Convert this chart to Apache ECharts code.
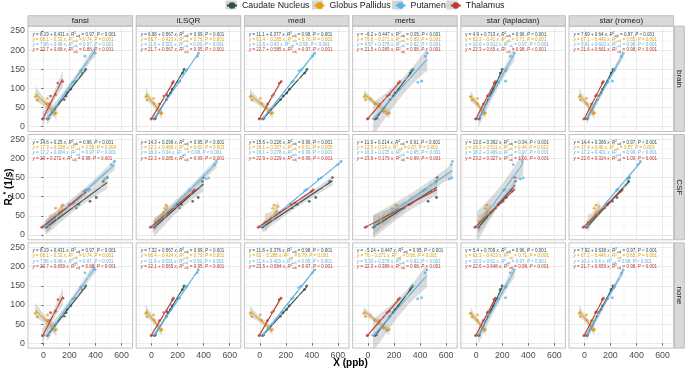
<!DOCTYPE html>
<html><head><meta charset="utf-8">
<script src="https://cdn.jsdelivr.net/npm/echarts@6/dist/echarts.min.js"></script>
<style>html,body{margin:0;padding:0;background:#fff}#c{width:685px;height:369px}</style>
</head><body><div id="c"></div>
<script>
// ---------------- DATA ----------------
const methods = ['fansi', 'iLSQR', 'medi', 'merts', 'star (laplacian)', 'star (romeo)'];
const references = ['brain', 'CSF', 'none'];
const groups = ['Caudate Nucleus', 'Globus Pallidus', 'Putamen', 'Thalamus'];
const xTickValues = [0, 200, 400, 600];
const yTickValues = [0, 50, 100, 150, 200, 250];
const xMinorValues = [-100, 100, 300, 500];
const yMinorValues = [25, 75, 125, 175, 225];

// R2* values (1/s) per region (same in every panel)
const yCN = [20, 22, 71, 80, 88, 98, 140, 150];
const yGP = [34, 36, 40, 60, 70, 74, 78];
const yPU = [21, 24, 116, 119, 146, 149, 184, 192];
const yTH = [20, 22, 59, 80, 84, 114, 118];

// susceptibility X (ppb) per panel: brain x6, CSF x6, none x6
const xCN = [
  [30, 38, 160, 175, 182, 210, 300, 325], [22, 30, 115, 126, 146, 158, 238, 250], [22, 32, 160, 180, 208, 228, 345, 362],
  [55, 68, 170, 195, 208, 238, 325, 345], [20, 26, 94, 102, 118, 132, 185, 200], [18, 25, 100, 110, 128, 140, 205, 220],
  [20, 28, 253, 270, 358, 406, 460, 491], [18, 26, 215, 230, 315, 358, 390, 398], [18, 28, 250, 290, 380, 430, 537, 558],
  [40, 50, 275, 320, 462, 526, 525, 532], [15, 22, 150, 172, 207, 232, 300, 298], [14, 21, 155, 178, 215, 250, 340, 345],
  [30, 38, 160, 175, 182, 210, 300, 325], [22, 29, 114, 125, 145, 157, 237, 249], [20, 30, 158, 178, 206, 226, 343, 360],
  [53, 66, 168, 193, 206, 236, 323, 343], [19, 25, 93, 101, 117, 131, 184, 199], [17, 24, 99, 109, 127, 139, 204, 219]
];
const xGP = [
  [88, 100, 68, 25, -45, 32, -62], [72, 80, 55, 20, -35, 15, -45], [90, 100, 70, 15, -60, 5, -75],
  [150, 165, 120, 55, -20, 20, -30], [62, 72, 48, 10, -30, 10, -45], [68, 78, 55, 20, -30, 15, -40],
  [40, 70, 85, 130, 95, 140, 150], [30, 50, 62, 95, 100, 120, 110], [40, 65, 80, 125, 100, 140, 110],
  [85, 105, 125, 200, 185, 230, 215], [20, 45, 50, 90, 70, 105, 80], [25, 50, 55, 95, 75, 115, 90],
  [88, 100, 68, 25, -45, 32, -62], [72, 80, 55, 20, -35, 15, -45], [88, 98, 68, 14, -60, 4, -74],
  [148, 163, 118, 54, -20, 18, -32], [62, 72, 48, 10, -30, 10, -45], [68, 78, 55, 20, -30, 15, -40]
];
const xPU = [
  [28, 38, 225, 240, 286, 299, 320, 398], [20, 28, 205, 218, 262, 270, 352, 360], [24, 33, 245, 258, 300, 318, 405, 422],
  [40, 55, 383, 413, 330, 345, 440, 455], [18, 24, 172, 226, 225, 230, 262, 295], [18, 25, 180, 215, 228, 235, 285, 300],
  [12, 25, 345, 355, 470, 491, 520, 547], [8, 18, 290, 300, 420, 438, 485, 500], [10, 22, 345, 360, 450, 470, 600, 625],
  [40, 55, 425, 440, 625, 642, 640, 648], [6, 14, 210, 220, 340, 361, 284, 355], [10, 18, 245, 255, 330, 340, 410, 430],
  [28, 38, 225, 240, 286, 299, 320, 398], [19, 27, 204, 217, 261, 269, 351, 359], [22, 31, 243, 256, 298, 316, 404, 422],
  [38, 53, 381, 411, 328, 343, 438, 453], [17, 23, 171, 225, 224, 229, 261, 294], [17, 24, 179, 214, 227, 234, 284, 299]
];
const xTH = [
  [-8, 2, 45, 55, 95, 110, 148], [-4, 3, 60, 95, 115, 160, 168], [-5, 2, 60, 95, 105, 150, 165],
  [-5, 3, 92, 148, 165, 232, 245], [-5, 2, 55, 86, 98, 138, 148], [-4, 3, 55, 86, 96, 138, 146],
  [-12, -4, 125, 200, 230, 311, 330], [-10, -2, 130, 195, 220, 315, 330], [-12, -4, 150, 240, 270, 395, 410],
  [-22, -10, 190, 305, 340, 495, 520], [-10, -3, 108, 172, 188, 276, 290], [-9, -2, 110, 175, 190, 280, 292],
  [-8, 2, 45, 55, 95, 112, 150], [-4, 3, 60, 95, 115, 160, 168], [-6, 1, 58, 93, 104, 148, 163],
  [-7, 1, 90, 146, 163, 230, 243], [-5, 2, 54, 85, 97, 137, 147], [-4, 3, 55, 86, 96, 138, 146]
];

// fitted equations per panel (intercept, slope, adj. R2, P)
const aCN = [8.19, 6.98, 11.1, -6.2, 4.9, 7.69, 14.6, 14.3, 15.6, 11.9, 13.6, 14.4, 8.19, 7.32, 11.8, -5.24, 5.4, 7.92];
const bCN = [0.431, 0.567, 0.377, 0.447, 0.713, 0.64, 0.25, 0.299, 0.226, 0.214, 0.392, 0.366, 0.431, 0.567, 0.376, 0.447, 0.709, 0.638];
const r2CN = [0.97, 0.99, 0.98, 0.95, 0.96, 0.97, 0.96, 0.95, 0.96, 0.91, 0.94, 0.97, 0.97, 0.99, 0.98, 0.95, 0.96, 0.97];
const pCN = Array(18).fill('< 0.001');
const aGP = [66.1, 66.7, 62.4, 76.6, 62.3, 67.1, 17.3, 12.1, 16.1, 12.5, 19.3, 17.4, 66.1, 66.4, 62, 76, 62.3, 67.2];
const bGP = [-0.33, -0.423, -0.285, -0.271, -0.41, -0.443, 0.338, 0.488, 0.357, 0.24, 0.511, 0.46, -0.33, -0.424, -0.288, -0.271, -0.413, -0.446];
const r2GP = [0.74, 0.76, 0.76, 0.69, 0.71, 0.65, 0.58, 0.60, 0.51, 0.67, 0.44, 0.57, 0.74, 0.79, 0.79, 0.68, 0.71, 0.65];
const pGP = ['= 0.001', '= 0.001', '= 0.001', '= 0.001', '= 0.001', '= 0.001',
  '= 0.004', '= 0.003', '= 0.005', '= 0.001', '= 0.012', '= 0.003',
  '= 0.001', '= 0.001', '= 0.001', '= 0.001', '= 0.001', '= 0.001'];
const aPU = [7.66, 11.6, 10.6, 4.57, 10.6, 9.91, 17.2, 18.3, 18.1, 16.3, 18.2, 17.2, 7.66, 11.9, 11.4, 5.33, 10.9, 10.1];
const bPU = [0.48, 0.501, 0.43, 0.378, 0.612, 0.602, 0.304, 0.34, 0.278, 0.235, 0.469, 0.401, 0.48, 0.501, 0.429, 0.378, 0.61, 0.6];
const r2PU = [0.97, 0.99, 0.99, 0.92, 0.97, 0.98, 0.97, 0.98, 0.99, 0.95, 0.97, 0.99, 0.97, 0.99, 0.99, 0.92, 0.97, 0.98];
const pPU = Array(18).fill('< 0.001');
const aTH = [23.7, 21.7, 22.7, 21.5, 22.3, 21.6, 23, 22.3, 22.9, 23.9, 23.2, 22.6, 23.7, 22.1, 23.5, 22.3, 22.6, 21.7];
const bTH = [0.68, 0.567, 0.585, 0.389, 0.65, 0.661, 0.272, 0.285, 0.229, 0.179, 0.327, 0.324, 0.659, 0.565, 0.584, 0.389, 0.648, 0.659];
const r2TH = [0.88, 0.95, 0.97, 0.98, 0.98, 0.98, 0.98, 0.99, 0.99, 0.99, 1.00, 1.00, 0.88, 0.95, 0.97, 0.98, 0.98, 0.98];
const pTH = Array(18).fill('< 0.001');

// ---------------- STYLE / LAYOUT ----------------
const colors = ['#2f4f4f', '#e69f00', '#56b4e9', '#c0392b'];
const FONT = '"Liberation Sans", Arial, Helvetica, sans-serif';
const L0 = 28, DX = 108.2, PW = 104.6, T0 = 26.2, DY = 108.3, PH = 105.3;
const XMIN = -118, XMAX = 685, YMIN = -12.5, YMAX = 262.5;
const T975 = {4: 2.776, 5: 2.571, 6: 2.447, 7: 2.365};
const LEG_LEFT = 226, LEG_TOP = 1, LEG_ICON_W = 10, LEG_ICON_H = 8, LEG_GAP = 4, LEG_FS = 8.8;

const groupData = [
  {y: yCN, x: xCN, a: aCN, b: bCN, r2: r2CN, p: pCN},
  {y: yGP, x: xGP, a: aGP, b: bGP, r2: r2GP, p: pGP},
  {y: yPU, x: xPU, a: aPU, b: bPU, r2: r2PU, p: pPU},
  {y: yTH, x: xTH, a: aTH, b: bTH, r2: r2TH, p: pTH}
];

function fmt(v) { return String(Math.abs(v)); }
function eqText(a, b, r2, p) {
  const ai = a < 0 ? '\u2212' + fmt(a) : fmt(a);
  const sign = b < 0 ? ' \u2212 ' : ' + ';
  return '{i|y} = ' + ai + sign + fmt(b) + ' {i|x}, {i|R}{sp|2}{sb|adj} = ' + r2.toFixed(2) + ', {i|P} ' + p;
}
function band(xs, ys, a, b) {
  const n = xs.length;
  const xbar = xs.reduce((s, v) => s + v, 0) / n;
  let sxx = 0, ssr = 0;
  for (let i = 0; i < n; i++) {
    sxx += (xs[i] - xbar) ** 2;
    ssr += (ys[i] - (a + b * xs[i])) ** 2;
  }
  const s = Math.sqrt(ssr / (n - 2));
  const t = T975[n - 2] || 2.4;
  const x0 = Math.min(...xs), x1 = Math.max(...xs);
  const pts = [];
  for (let k = 0; k <= 40; k++) {
    const x = x0 + (x1 - x0) * k / 40;
    const f = a + b * x;
    const se = s * Math.sqrt(1 / n + (x - xbar) ** 2 / sxx);
    pts.push([x, f - t * se, f + t * se]);
  }
  return pts;
}

const grids = [], xAxes = [], yAxes = [], series = [], graphics = [];
const lineSeries = [], pointSeries = [], bandSeries = [], gridSeries = [];

for (let p = 0; p < 18; p++) {
  const r = Math.floor(p / 6), c = p % 6;
  const left = L0 + c * DX, top = T0 + r * DY;
  const bottomRow = r === 2, leftCol = c === 0;
  grids.push({left: left, top: top, width: PW, height: PH, show: true, backgroundColor: '#ffffff',
    borderColor: '#b3b3b3', borderWidth: 0.8});
  xAxes.push({type: 'value', gridIndex: p, min: XMIN, max: XMAX, minInterval: 200, maxInterval: 200, splitNumber: 4,
    axisLine: {show: false},
    axisTick: {show: bottomRow, length: 2, customValues: xTickValues, lineStyle: {color: '#333333', width: 0.8}},
    axisLabel: {show: bottomRow, customValues: xTickValues, fontSize: 8.8,
      color: '#4d4d4d', margin: 3, fontFamily: FONT},
    splitLine: {show: true, lineStyle: {color: '#dedede', width: 0.6}}});
  yAxes.push({type: 'value', gridIndex: p, min: YMIN, max: YMAX, minInterval: 50, maxInterval: 50, splitNumber: 5,
    axisLine: {show: false},
    axisTick: {show: leftCol, length: 2, customValues: yTickValues, lineStyle: {color: '#333333', width: 0.8}},
    axisLabel: {show: leftCol, customValues: yTickValues, fontSize: 8.8,
      color: '#4d4d4d', margin: 3, fontFamily: FONT},
    splitLine: {show: true, lineStyle: {color: '#dedede', width: 0.6}}});

  // minor grid lines
  gridSeries.push({type: 'line', xAxisIndex: p, yAxisIndex: p, data: [], silent: true, z: 1,
    markLine: {silent: true, symbol: ['none', 'none'], label: {show: false}, animation: false,
      lineStyle: {type: 'solid', color: '#ececec', width: 0.4},
      data: xMinorValues.map(v => ({xAxis: v})).concat(yMinorValues.map(v => ({yAxis: v})))}});

  groupData.forEach((g, gi) => {
    const xs = g.x[p], ys = g.y;
    const a = g.a[p], b = g.b[p];
    const pts = xs.map((x, i) => [x, ys[i]]);
    const x0 = Math.min(...xs), x1 = Math.max(...xs);
    pointSeries.push({type: 'scatter', name: groups[gi], xAxisIndex: p, yAxisIndex: p, data: pts,
      symbol: 'circle', symbolSize: 2.8, itemStyle: {color: colors[gi]}, silent: true, z: 2});
    const bp = band(xs, ys, a, b);
    bandSeries.push({type: 'custom', xAxisIndex: p, yAxisIndex: p, silent: true, z: 3, clip: true,
      data: [[x0, a + b * x0]],
      renderItem: function (params, api) {
        const up = bp.map(q => api.coord([q[0], q[2]]));
        const lo = bp.map(q => api.coord([q[0], q[1]])).reverse();
        return {type: 'polygon', shape: {points: up.concat(lo)}, style: {fill: 'rgba(153,153,153,0.35)'}};
      }});
    lineSeries.push({type: 'line', name: groups[gi], xAxisIndex: p, yAxisIndex: p,
      data: [[x0, a + b * x0], [x1, a + b * x1]], symbol: 'circle', symbolSize: 4, showSymbol: false,
      lineStyle: {color: colors[gi], width: 1.1}, itemStyle: {color: colors[gi]}, silent: true, z: 4});
    graphics.push({type: 'text', silent: true, z: 100, x: left + 4.5, y: top + 8.1 + 5.3 * gi,
      style: {text: eqText(a, b, g.r2[p], g.p[p]), fill: colors[gi], fontSize: 4.5, fontFamily: FONT,
        verticalAlign: 'middle', align: 'left', lineHeight: 6,
        rich: {
          i: {fontStyle: 'italic', fontSize: 4.5, fontFamily: FONT, lineHeight: 6},
          sp: {fontSize: 3.2, fontFamily: FONT, verticalAlign: 'top', lineHeight: 6},
          sb: {fontSize: 3.2, fontFamily: FONT, verticalAlign: 'bottom', lineHeight: 6}
        }}});
  });
}
series.push(...lineSeries, ...gridSeries, ...pointSeries, ...bandSeries);

// legend key backgrounds (grey boxes as in the ggplot keys)
(function () {
  const ctx = document.createElement('canvas').getContext('2d');
  ctx.font = LEG_FS + 'px ' + FONT;
  let xx = LEG_LEFT;
  groups.forEach(name => {
    graphics.push({type: 'rect', silent: true, z: -1, shape: {x: xx - 0.5, y: LEG_TOP + LEG_ICON_H / 2 - 4.5, width: LEG_ICON_W + 1, height: 9},
      style: {fill: '#d4d4d4'}});
    xx += LEG_ICON_W + 5 + ctx.measureText(name).width + LEG_GAP;
  });
})();

// strips
methods.forEach((m, c) => {
  const left = L0 + c * DX;
  graphics.push({type: 'rect', silent: true, shape: {x: left, y: 15.7, width: PW, height: 10.3},
    style: {fill: '#d9d9d9', stroke: '#b3b3b3', lineWidth: 0.8}});
  graphics.push({type: 'text', silent: true, x: left + PW / 2, y: 21,
    style: {text: m, fill: '#1a1a1a', fontSize: 8, fontFamily: FONT, align: 'center', verticalAlign: 'middle'}});
});
references.forEach((ref, r) => {
  const top = T0 + r * DY;
  graphics.push({type: 'rect', silent: true, shape: {x: 674.5, y: top, width: 9.8, height: PH},
    style: {fill: '#d9d9d9', stroke: '#b3b3b3', lineWidth: 0.8}});
  graphics.push({type: 'text', silent: true, x: 679.5, y: top + PH / 2, rotation: -Math.PI / 2,
    style: {text: ref, fill: '#1a1a1a', fontSize: 8, fontFamily: FONT, align: 'center', verticalAlign: 'middle'}});
});
// axis titles
graphics.push({type: 'text', silent: true, x: 350.5, y: 363.5,
  style: {text: 'X (ppb)', fill: '#000', fontSize: 10, fontWeight: 'bold', fontFamily: FONT, align: 'center', verticalAlign: 'middle'}});
graphics.push({type: 'text', silent: true, x: 9, y: 187, rotation: Math.PI / 2,
  style: {text: 'R{sb|2}{sp|*} (1/s)', fill: '#000', fontSize: 10, fontWeight: 'bold', fontFamily: FONT,
    align: 'center', verticalAlign: 'middle', lineHeight: 12,
    rich: {sb: {fontSize: 7, fontWeight: 'bold', fontFamily: FONT, verticalAlign: 'bottom', lineHeight: 12},
      sp: {fontSize: 7, fontWeight: 'bold', fontFamily: FONT, verticalAlign: 'top', lineHeight: 12}}}});

const chart = echarts.init(document.getElementById('c'), null, {renderer: 'canvas'});
chart.setOption({
  animation: false,
  backgroundColor: '#ffffff',
  legend: {top: LEG_TOP, left: LEG_LEFT, padding: 0, itemWidth: LEG_ICON_W, itemHeight: LEG_ICON_H, itemGap: LEG_GAP,
    selectedMode: false, z: 10,
    data: groups, textStyle: {fontSize: LEG_FS, color: '#1a1a1a', fontFamily: FONT}},
  grid: grids, xAxis: xAxes, yAxis: yAxes, series: series, graphic: graphics
});
</script></body></html>
